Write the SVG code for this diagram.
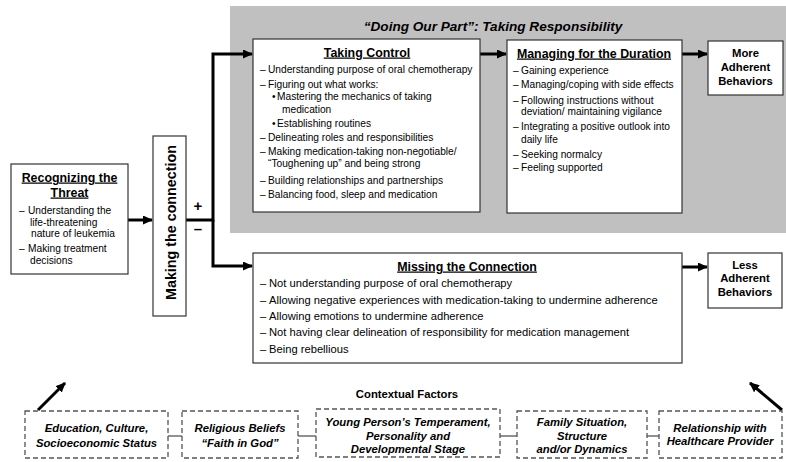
<svg xmlns="http://www.w3.org/2000/svg" width="786" height="462" viewBox="0 0 786 462">
  <defs>
    <marker id="arrowhead" viewBox="0 0 10 9" refX="9" refY="4.5" markerWidth="10" markerHeight="9" markerUnits="userSpaceOnUse" orient="auto">
      <path d="M0,0 L10,4.5 L0,9 Z" fill="#000"/>
    </marker>
    <style>
      text { font-family: "Liberation Sans", Arial, sans-serif; fill: #000; }
      .box { fill: #fff; stroke: #333; stroke-width: 1.2; }
      .ctx { fill: #fff; stroke: #555; stroke-width: 1.3; stroke-dasharray: 5 3; }
      .title { font-size: 12.4px; font-weight: bold; text-anchor: middle; text-decoration: underline; }
      .body { font-size: 10.2px; }
      .body2 { font-size: 11.2px; }
      .outcome { font-size: 11.3px; font-weight: bold; text-anchor: middle; }
      .factor { font-size: 11.3px; font-weight: bold; font-style: italic; text-anchor: middle; }
      .flow { fill: none; stroke: #000; stroke-width: 3; }
      .thin { fill: none; stroke: #555; stroke-width: 1.3; }
    </style>
  </defs>

  <rect width="786" height="462" fill="#fff"/>

  <!-- shaded "Doing Our Part" panel -->
  <g id="doing-our-part">
    <rect x="230" y="6" width="556" height="227" fill="#c0c0c0"/>
    <text x="493" y="31" font-size="13.6" font-weight="bold" font-style="italic" text-anchor="middle">“Doing Our Part”: Taking Responsibility</text>
  </g>

  <!-- connectors -->
  <g id="connectors">
    <line class="flow" x1="128" y1="220" x2="152" y2="220" marker-end="url(#arrowhead)"/>
    <path class="flow" d="M186,220 H213 V54 H252" marker-end="url(#arrowhead)"/>
    <path class="flow" d="M213,220 V266 H252" marker-end="url(#arrowhead)"/>
    <line class="flow" x1="480" y1="54" x2="506" y2="54" marker-end="url(#arrowhead)"/>
    <line class="flow" x1="682" y1="54" x2="707" y2="54" marker-end="url(#arrowhead)"/>
    <line class="flow" x1="682" y1="267" x2="707" y2="267" marker-end="url(#arrowhead)"/>
    <line class="flow" x1="38" y1="410" x2="65" y2="383" marker-end="url(#arrowhead)"/>
    <line class="flow" x1="782" y1="410" x2="750" y2="383" marker-end="url(#arrowhead)"/>
    <line class="thin" x1="168" y1="436" x2="182" y2="436"/>
    <line class="thin" x1="298" y1="436" x2="316" y2="436"/>
    <line class="thin" x1="500" y1="436" x2="517" y2="436"/>
    <line class="thin" x1="647" y1="436" x2="659" y2="436"/>
    <text x="198" y="211" font-size="15" font-weight="bold" text-anchor="middle">+</text>
    <text x="198" y="234" font-size="15" font-weight="bold" text-anchor="middle">–</text>
  </g>

  <g id="recognizing-the-threat">
    <rect class="box" x="11" y="164" width="117" height="110"/>
    <text class="title" x="69.5" y="181.5">Recognizing the</text>
    <text class="title" x="69.5" y="196.5">Threat</text>
    <g class="body">
      <text x="19" y="214">–</text><text x="28" y="214">Understanding the</text>
      <text x="30" y="225.5">life-threatening</text>
      <text x="31" y="237">nature of leukemia</text>
      <text x="19" y="252">–</text><text x="28" y="252">Making treatment</text>
      <text x="30" y="263.5">decisions</text>
    </g>
  </g>

  <g id="making-the-connection">
    <rect class="box" x="153" y="136" width="33" height="180"/>
    <text transform="translate(176,222.5) rotate(-90)" font-size="14.3" font-weight="bold" text-anchor="middle">Making the connection</text>
  </g>

  <g id="taking-control">
    <rect class="box" x="253" y="39" width="227" height="173"/>
    <text class="title" x="367" y="56.5">Taking Control</text>
    <g class="body">
      <text x="260" y="72.6">–</text><text x="268" y="72.6">Understanding purpose of oral chemotherapy</text>
      <text x="260" y="87.8">–</text><text x="268" y="87.8">Figuring out what works:</text>
      <text x="272" y="100.3">•</text><text x="277" y="100.3">Mastering the mechanics of taking</text>
      <text x="282" y="112.8">medication</text>
      <text x="272" y="126.9">•</text><text x="277" y="126.9">Establishing routines</text>
      <text x="260" y="140.9">–</text><text x="268" y="140.9">Delineating roles and responsibilities</text>
      <text x="260" y="154.6">–</text><text x="268" y="154.6">Making medication-taking non-negotiable/</text>
      <text x="268" y="167">“Toughening up” and being strong</text>
      <text x="260" y="183.5">–</text><text x="268" y="183.5">Building relationships and partnerships</text>
      <text x="260" y="197.8">–</text><text x="268" y="197.8">Balancing food, sleep and medication</text>
    </g>
  </g>

  <g id="managing-for-the-duration">
    <rect class="box" x="507" y="40" width="175" height="173"/>
    <text class="title" x="594" y="57.5">Managing for the Duration</text>
    <g class="body">
      <text x="513" y="74.3">–</text><text x="521" y="74.3">Gaining experience</text>
      <text x="513" y="87.9">–</text><text x="521" y="87.9">Managing/coping with side effects</text>
      <text x="513" y="103.6">–</text><text x="521" y="103.6">Following instructions without</text>
      <text x="521" y="114.6">deviation/ maintaining vigilance</text>
      <text x="513" y="130.3">–</text><text x="521" y="130.3">Integrating a positive outlook into</text>
      <text x="521" y="142.6">daily life</text>
      <text x="513" y="157.6">–</text><text x="521" y="157.6">Seeking normalcy</text>
      <text x="513" y="171.3">–</text><text x="521" y="171.3">Feeling supported</text>
    </g>
  </g>

  <g id="more-adherent">
    <rect class="box" x="708" y="41" width="75" height="54"/>
    <text class="outcome" x="745.5" y="57">More</text>
    <text class="outcome" x="745.5" y="71">Adherent</text>
    <text class="outcome" x="745.5" y="85">Behaviors</text>
  </g>

  <g id="missing-the-connection">
    <rect class="box" x="253" y="253" width="429" height="110"/>
    <text class="title" x="467" y="270.5">Missing the Connection</text>
    <g class="body2">
      <text x="260" y="287">–</text><text x="269" y="287">Not understanding purpose of oral chemotherapy</text>
      <text x="260" y="304">–</text><text x="269" y="304">Allowing negative experiences with medication-taking to undermine adherence</text>
      <text x="260" y="320">–</text><text x="269" y="320">Allowing emotions to undermine adherence</text>
      <text x="260" y="336">–</text><text x="269" y="336">Not having clear delineation of responsibility for medication management</text>
      <text x="260" y="353">–</text><text x="269" y="353">Being rebellious</text>
    </g>
  </g>

  <g id="less-adherent">
    <rect class="box" x="708" y="253" width="74" height="55"/>
    <text class="outcome" x="745" y="269">Less</text>
    <text class="outcome" x="745" y="282">Adherent</text>
    <text class="outcome" x="745" y="296">Behaviors</text>
  </g>

  <g id="contextual-factors">
    <text x="407" y="398" font-size="11.3" font-weight="bold" text-anchor="middle">Contextual Factors</text>
  </g>

  <g id="factor-education">
    <rect class="ctx" x="25" y="411" width="143" height="47"/>
    <text class="factor" x="96.5" y="432">Education, Culture,</text>
    <text class="factor" x="96.5" y="447">Socioeconomic Status</text>
  </g>

  <g id="factor-religion">
    <rect class="ctx" x="182" y="411" width="116" height="47"/>
    <text class="factor" x="240" y="432">Religious Beliefs</text>
    <text class="factor" x="240" y="447">“Faith in God”</text>
  </g>

  <g id="factor-temperament">
    <rect class="ctx" x="316" y="409" width="184" height="48"/>
    <text class="factor" x="408" y="426">Young Person’s Temperament,</text>
    <text class="factor" x="408" y="440">Personality and</text>
    <text class="factor" x="408" y="453">Developmental Stage</text>
  </g>

  <g id="factor-family">
    <rect class="ctx" x="517" y="411" width="130" height="47"/>
    <text class="factor" x="582" y="426">Family Situation,</text>
    <text class="factor" x="582" y="440">Structure</text>
    <text class="factor" x="582" y="453">and/or Dynamics</text>
  </g>

  <g id="factor-provider">
    <rect class="ctx" x="659" y="411" width="123" height="47"/>
    <text class="factor" x="720" y="432">Relationship with</text>
    <text class="factor" x="720" y="445">Healthcare Provider</text>
  </g>
</svg>
